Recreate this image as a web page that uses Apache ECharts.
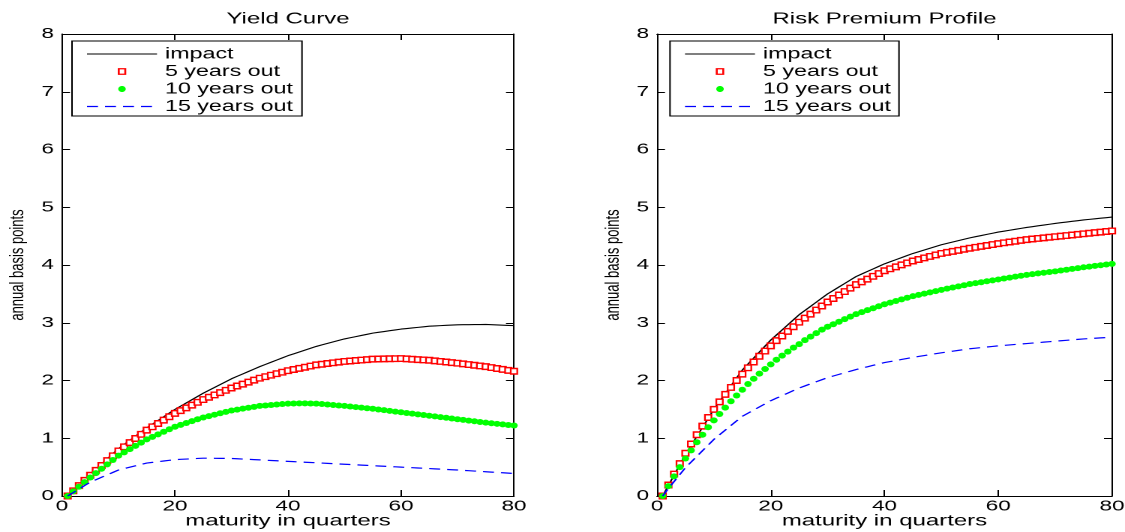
<!DOCTYPE html>
<html>
<head>
<meta charset="utf-8">
<script src="https://cdn.jsdelivr.net/npm/echarts@6/dist/echarts.min.js"></script>
<style>
html,body{margin:0;padding:0;background:#fff;overflow:hidden;}
#c{position:absolute;left:0;top:0;height:532px;transform-origin:0 0;}
</style>
</head>
<body>
<div id="c"></div>
<script>
// ---------- data ----------
const quarters = Array.from({length: 80}, (_, i) => i + 1);
const xTicks = [0, 20, 40, 60, 80];
const yTicks = [0, 1, 2, 3, 4, 5, 6, 7, 8];
const seriesNames = ['impact', '5 years out', '10 years out', '15 years out'];
const panelTitles = ['Yield Curve', 'Risk Premium Profile'];
const xName = 'maturity in quarters';
const yName = 'annual basis points';

// Yield Curve
const ycImpact = [0,0.095,0.19,0.285,0.38,0.468,0.556,0.644,0.732,0.82,0.892,0.964,1.036,1.108,1.18,1.244,1.308,1.372,1.436,1.50,
1.556,1.612,1.668,1.724,1.78,1.83,1.88,1.93,1.98,2.03,2.072,2.114,2.156,2.198,2.24,2.278,2.316,2.354,2.392,2.43,
2.462,2.494,2.526,2.558,2.59,2.616,2.642,2.668,2.694,2.72,2.74,2.76,2.78,2.80,2.82,2.834,2.848,2.862,2.876,2.89,
2.90,2.91,2.92,2.93,2.94,2.945,2.95,2.955,2.96,2.965,2.966,2.967,2.968,2.969,2.97,2.966,2.962,2.958,2.954,2.95];
const yc5y = [0,0.09,0.18,0.27,0.36,0.444,0.528,0.612,0.696,0.78,0.852,0.924,0.996,1.068,1.14,1.198,1.256,1.314,1.372,1.43,
1.478,1.526,1.574,1.622,1.67,1.71,1.75,1.79,1.83,1.87,1.904,1.938,1.972,2.006,2.04,2.066,2.092,2.118,2.144,2.17,
2.19,2.21,2.23,2.25,2.27,2.282,2.294,2.306,2.318,2.33,2.338,2.346,2.354,2.362,2.37,2.372,2.374,2.376,2.378,2.38,
2.374,2.368,2.362,2.356,2.35,2.34,2.33,2.32,2.31,2.30,2.288,2.276,2.264,2.252,2.24,2.224,2.208,2.192,2.176,2.16];
const yc10y = [0,0.08,0.16,0.24,0.32,0.396,0.472,0.548,0.624,0.70,0.756,0.812,0.868,0.924,0.98,1.024,1.068,1.112,1.156,1.20,
1.232,1.264,1.296,1.328,1.36,1.384,1.408,1.432,1.456,1.48,1.496,1.512,1.528,1.544,1.56,1.568,1.576,1.584,1.592,1.60,
1.602,1.604,1.603,1.602,1.60,1.592,1.584,1.576,1.568,1.56,1.55,1.54,1.53,1.52,1.51,1.498,1.486,1.474,1.462,1.45,
1.438,1.426,1.414,1.402,1.39,1.378,1.366,1.354,1.342,1.33,1.318,1.306,1.294,1.282,1.27,1.26,1.25,1.24,1.23,1.22];
const yc15y = [0,0.06,0.12,0.18,0.24,0.282,0.324,0.366,0.408,0.45,0.474,0.498,0.522,0.546,0.57,0.582,0.594,0.606,0.618,0.63,
0.635,0.64,0.645,0.65,0.655,0.654,0.653,0.652,0.651,0.65,0.645,0.64,0.635,0.63,0.625,0.62,0.615,0.61,0.605,0.60,
0.595,0.59,0.585,0.58,0.575,0.57,0.565,0.56,0.555,0.55,0.545,0.54,0.535,0.53,0.525,0.52,0.515,0.51,0.505,0.50,
0.495,0.49,0.485,0.48,0.475,0.47,0.465,0.46,0.455,0.45,0.444,0.438,0.432,0.426,0.42,0.414,0.408,0.402,0.396,0.39];

// Risk Premium Profile
const rpImpact = [0,0.18,0.36,0.54,0.72,0.876,1.032,1.188,1.344,1.50,1.636,1.772,1.908,2.044,2.18,2.284,2.388,2.492,2.596,2.70,
2.788,2.876,2.964,3.052,3.14,3.212,3.284,3.356,3.428,3.50,3.56,3.62,3.68,3.74,3.80,3.844,3.888,3.932,3.976,4.02,
4.056,4.092,4.128,4.164,4.20,4.23,4.26,4.29,4.32,4.35,4.374,4.398,4.422,4.446,4.47,4.49,4.51,4.53,4.55,4.57,
4.586,4.602,4.618,4.634,4.65,4.664,4.678,4.692,4.706,4.72,4.732,4.744,4.756,4.768,4.78,4.79,4.80,4.81,4.82,4.83];
const rp5y = [0,0.19,0.38,0.56,0.74,0.90,1.06,1.21,1.36,1.50,1.63,1.76,1.88,2.00,2.11,2.22,2.32,2.42,2.51,2.60,
2.69,2.77,2.85,2.93,3.01,3.08,3.15,3.22,3.29,3.36,3.42,3.48,3.54,3.60,3.66,3.708,3.756,3.804,3.852,3.90,
3.934,3.968,4.002,4.036,4.07,4.096,4.122,4.148,4.174,4.20,4.218,4.236,4.254,4.272,4.29,4.306,4.322,4.338,4.354,4.37,
4.384,4.398,4.412,4.426,4.44,4.45,4.46,4.47,4.48,4.49,4.50,4.51,4.52,4.53,4.54,4.55,4.56,4.57,4.58,4.59];
const rp10y = [0,0.17,0.34,0.50,0.65,0.79,0.93,1.06,1.19,1.31,1.42,1.53,1.64,1.74,1.84,1.94,2.03,2.12,2.20,2.28,
2.36,2.43,2.50,2.57,2.63,2.70,2.76,2.82,2.88,2.93,2.974,3.018,3.062,3.106,3.15,3.184,3.218,3.252,3.286,3.32,
3.348,3.376,3.404,3.432,3.46,3.482,3.504,3.526,3.548,3.57,3.59,3.61,3.63,3.65,3.67,3.686,3.702,3.718,3.734,3.75,
3.766,3.782,3.798,3.814,3.83,3.842,3.854,3.866,3.878,3.89,3.904,3.918,3.932,3.946,3.96,3.972,3.984,3.996,4.008,4.02];
const rp15y = [0,0.13,0.25,0.37,0.49,0.588,0.686,0.784,0.882,0.98,1.06,1.14,1.22,1.30,1.38,1.434,1.488,1.542,1.596,1.65,
1.694,1.738,1.782,1.826,1.87,1.906,1.942,1.978,2.014,2.05,2.078,2.106,2.134,2.162,2.19,2.214,2.238,2.262,2.286,2.31,
2.328,2.346,2.364,2.382,2.40,2.416,2.432,2.448,2.464,2.48,2.494,2.508,2.522,2.536,2.55,2.56,2.57,2.58,2.59,2.60,
2.608,2.616,2.624,2.632,2.64,2.648,2.656,2.664,2.672,2.68,2.688,2.696,2.704,2.712,2.72,2.726,2.732,2.738,2.744,2.75];

const panelData = [
  [ycImpact, yc5y, yc10y, yc15y],
  [rpImpact, rp5y, rp10y, rp15y]
];

// ---------- layout (screen px -> css px, the page is stretched horizontally) ----------
const S = 1.5;
const W = 1125 / S;
const el = document.getElementById('c');
el.style.width = W + 'px';
el.style.transform = 'scaleX(' + S + ')';
const sx = v => v / S;

const FONT = '"Liberation Sans", Arial, Helvetica, sans-serif';
const panels = [
  {left: 62, right: 514, legendL: 72, legendR: 302},
  {left: 657, right: 1112, legendL: 670, legendR: 899}
];
const TOP = 34, H = 462;

const grids = [], xAxes = [], yAxes = [], titles = [], series = [], graphics = [];

panels.forEach((p, g) => {
  grids.push({left: sx(p.left), width: sx(p.right - p.left), top: TOP, height: H,
    containLabel: false, outerBoundsMode: 'none'});
  titles.push({
    text: panelTitles[g], left: sx((p.left + p.right) / 2), top: 11, textAlign: 'center', padding: 0,
    textStyle: {fontFamily: FONT, fontSize: 16, fontWeight: 'normal', color: '#000'}
  });
  const line = {show: true, onZero: false, lineStyle: {color: '#000', width: 1}};
  xAxes.push({
    gridIndex: g, type: 'value', position: 'bottom', min: xTicks[0], max: xTicks[xTicks.length - 1], interval: 20,
    axisLine: line, axisTick: {inside: true, length: 6, lineStyle: {color: '#000'}},
    axisLabel: {color: '#000', fontFamily: FONT, fontSize: 15, margin: 3},
    splitLine: {show: false},
    name: xName, nameLocation: 'middle', nameGap: 17, nameMoveOverlap: false,
    nameTextStyle: {color: '#000', fontFamily: FONT, fontSize: 16}
  });
  xAxes.push({
    gridIndex: g, type: 'value', position: 'top', min: xTicks[0], max: xTicks[xTicks.length - 1], interval: 20,
    axisLine: line, axisTick: {inside: true, length: 6, lineStyle: {color: '#000'}},
    axisLabel: {show: false}, splitLine: {show: false}
  });
  yAxes.push({
    gridIndex: g, type: 'value', position: 'left', min: yTicks[0], max: yTicks[yTicks.length - 1], interval: 1,
    axisLine: line, axisTick: {inside: true, length: sx(8), lineStyle: {color: '#000'}},
    axisLabel: {color: '#000', fontFamily: FONT, fontSize: 15, margin: sx(8)},
    splitLine: {show: false},
    name: yName, nameLocation: 'middle', nameGap: sx(34),
    nameTextStyle: {color: '#000', fontFamily: FONT, fontSize: 13}
  });
  yAxes.push({
    gridIndex: g, type: 'value', position: 'right', min: yTicks[0], max: yTicks[yTicks.length - 1], interval: 1,
    axisLine: line, axisTick: {inside: true, length: sx(8), lineStyle: {color: '#000'}},
    axisLabel: {show: false}, splitLine: {show: false}
  });

  const d = panelData[g];
  const pts = arr => quarters.map((q, i) => [q, arr[i]]);
  const xi = g * 2, yi = g * 2;
  series.push({
    name: seriesNames[0], type: 'line', xAxisIndex: xi, yAxisIndex: yi, data: pts(d[0]),
    symbol: 'none', clip: false, lineStyle: {color: '#000', width: 1.1}, z: 2
  });
  series.push({
    name: seriesNames[1], type: 'scatter', xAxisIndex: xi, yAxisIndex: yi, data: pts(d[1]),
    symbol: 'rect', symbolSize: [sx(6.5), 5.5], clip: false,
    itemStyle: {color: '#fff', borderColor: '#ff0000', borderWidth: 1.3, opacity: 1}, z: 3
  });
  series.push({
    name: seriesNames[2], type: 'scatter', xAxisIndex: xi, yAxisIndex: yi, data: pts(d[2]),
    symbol: 'circle', symbolSize: [sx(7.5), 6], clip: false,
    itemStyle: {color: '#00ff00', opacity: 1}, z: 4
  });
  series.push({
    name: seriesNames[3], type: 'line', xAxisIndex: xi, yAxisIndex: yi, data: pts(d[3]),
    symbol: 'none', clip: false, lineStyle: {color: '#0000ff', width: 1.2, type: [sx(11), sx(7)]}, z: 5
  });

  // legend box (drawn with graphic elements)
  const bx = sx(p.legendL), bw = sx(p.legendR - p.legendL);
  const by = 41, bh = 75;
  graphics.push({type: 'rect', z: 100, shape: {x: bx, y: by, width: bw, height: bh},
    style: {fill: '#fff', stroke: '#000', lineWidth: 1}});
  const rows = [54, 71.5, 89, 106.5];
  const lx1 = sx(p.legendL + 15), lx2 = sx(p.legendL + 85), mx = sx(p.legendL + 50), tx = sx(p.legendL + 93);
  graphics.push({type: 'line', z: 101, shape: {x1: lx1, y1: rows[0], x2: lx2, y2: rows[0]},
    style: {stroke: '#000', lineWidth: 1.1}});
  graphics.push({type: 'rect', z: 101, shape: {x: mx - sx(3.25), y: rows[1] - 2.75, width: sx(6.5), height: 5.5},
    style: {fill: '#fff', stroke: '#ff0000', lineWidth: 1.3}});
  graphics.push({type: 'ellipse', z: 101, shape: {cx: mx, cy: rows[2], rx: sx(3.75), ry: 3},
    style: {fill: '#00ff00'}});
  graphics.push({type: 'line', z: 101, shape: {x1: lx1, y1: rows[3], x2: lx2, y2: rows[3]},
    style: {stroke: '#0000ff', lineWidth: 1.2, lineDash: [sx(11), sx(7)]}});
  seriesNames.forEach((n, k) => {
    graphics.push({type: 'text', z: 101, x: tx, y: rows[k],
      style: {text: n, fill: '#000', font: '15.5px ' + FONT, textAlign: 'left', textVerticalAlign: 'middle',
        align: 'left', verticalAlign: 'middle'}});
  });
});

const chart = echarts.init(el, null, {renderer: 'canvas', devicePixelRatio: 2});
chart.setOption({
  animation: false,
  backgroundColor: '#fff',
  title: titles,
  grid: grids,
  xAxis: xAxes,
  yAxis: yAxes,
  series: series,
  graphic: {elements: graphics}
});
</script>
</body>
</html>
